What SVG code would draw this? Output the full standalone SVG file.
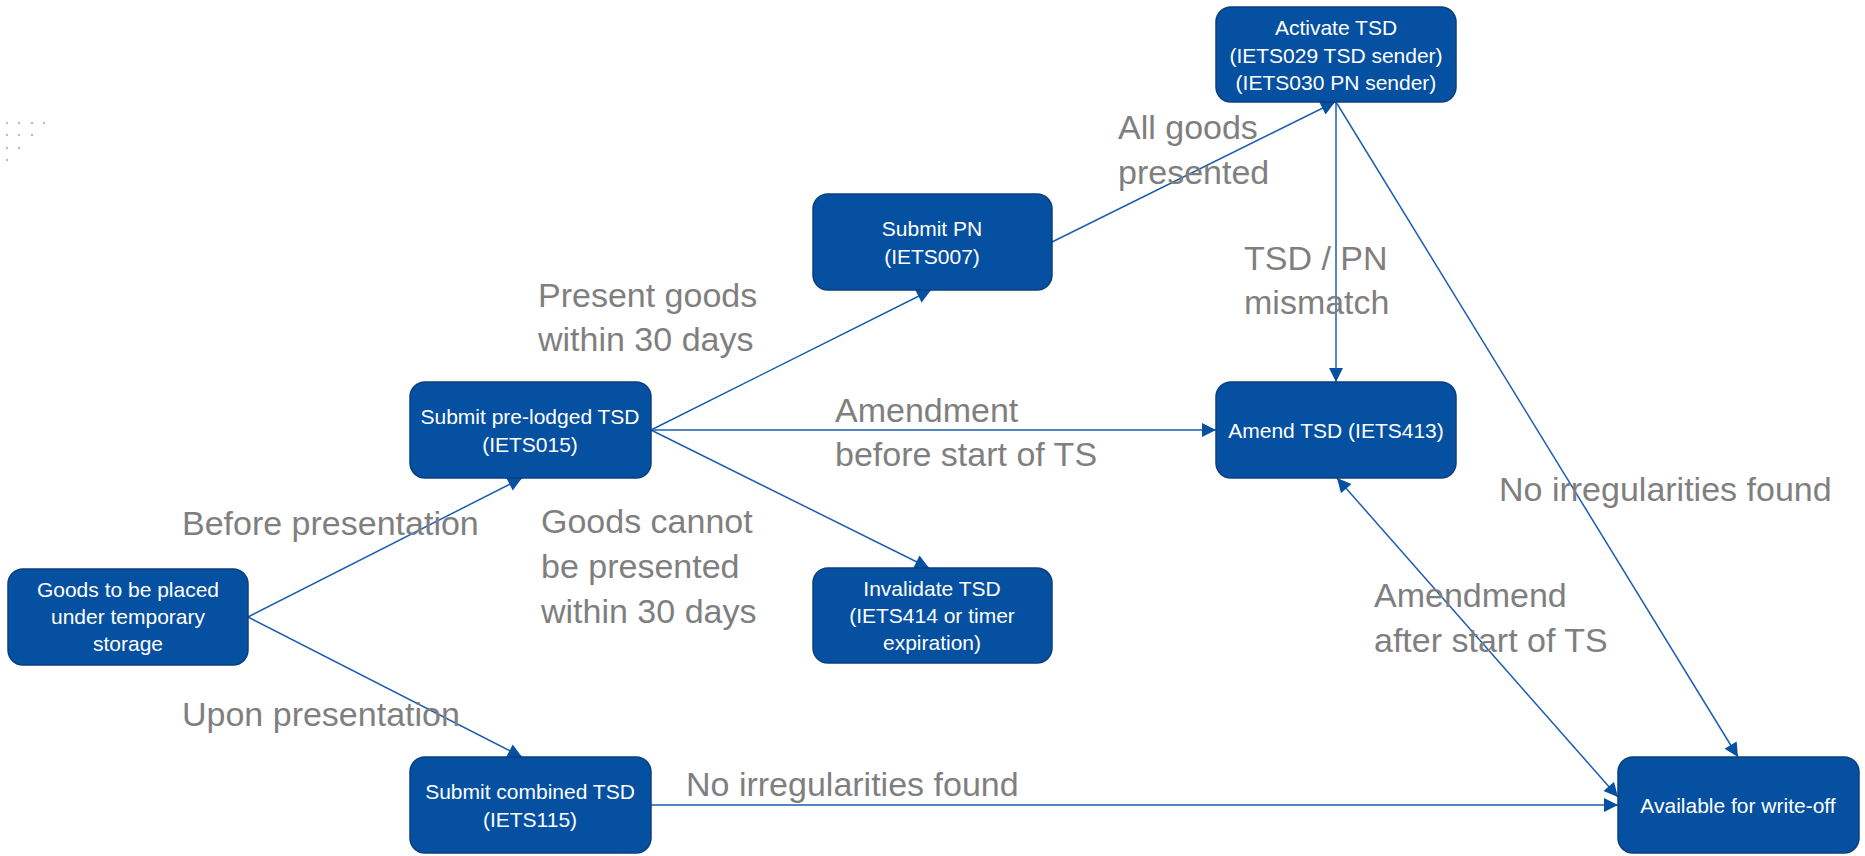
<svg xmlns="http://www.w3.org/2000/svg" width="1865" height="856" viewBox="0 0 1865 856">
<style>
.node rect{fill:#0550A1;stroke:#0B3F7F;stroke-width:1.5}
.node text{fill:#FFFFFF;font-family:"Liberation Sans",Arial,sans-serif;font-size:21px;text-anchor:middle}
.lbl{fill:#7F7F7F;font-family:"Liberation Sans",Arial,sans-serif;font-size:34px}
.edge{stroke:#1B5DB0;stroke-width:1.5;fill:none}
.dot{fill:#BDBDBD}
</style>
<defs>
<marker id="ah" viewBox="0 0 10 10" refX="10" refY="5" markerUnits="userSpaceOnUse" markerWidth="15" markerHeight="14" orient="auto-start-reverse">
<path d="M0,0 L10,5 L0,10 z" fill="#0550A1"/>
</marker>
</defs>
<rect width="1865" height="856" fill="#FFFFFF"/>
<g id="decor">
<circle class="dot" cx="7" cy="123" r="1.2"/><circle class="dot" cx="19" cy="123" r="1.2"/><circle class="dot" cx="32" cy="123" r="1.2"/><circle class="dot" cx="44" cy="123" r="1.2"/>
<circle class="dot" cx="7" cy="135" r="1.2"/><circle class="dot" cx="19" cy="135" r="1.2"/><circle class="dot" cx="32" cy="135" r="1.2"/>
<circle class="dot" cx="7" cy="148" r="1.2"/><circle class="dot" cx="19" cy="148" r="1.2"/>
<circle class="dot" cx="7" cy="160" r="1.2"/>
</g>
<g id="connectors">
<line class="edge" x1="248" y1="617" x2="522" y2="478" marker-end="url(#ah)"/>
<line class="edge" x1="248" y1="617" x2="522" y2="757" marker-end="url(#ah)"/>
<line class="edge" x1="651" y1="430" x2="931" y2="290" marker-end="url(#ah)"/>
<line class="edge" x1="651" y1="430" x2="1216" y2="430" marker-end="url(#ah)"/>
<line class="edge" x1="651" y1="430" x2="929" y2="568" marker-end="url(#ah)"/>
<line class="edge" x1="1052" y1="242" x2="1335" y2="102" marker-end="url(#ah)"/>
<line class="edge" x1="1336" y1="102" x2="1336" y2="382" marker-end="url(#ah)"/>
<line class="edge" x1="1336" y1="102" x2="1738" y2="757" marker-end="url(#ah)"/>
<line class="edge" x1="651" y1="805" x2="1618" y2="805" marker-end="url(#ah)"/>
<line class="edge" x1="1337" y1="478" x2="1618" y2="797" marker-start="url(#ah)" marker-end="url(#ah)"/>
</g>
<g id="labels">
<text class="lbl" x="1118" y="139">All goods</text>
<text class="lbl" x="1118" y="184">presented</text>
<text class="lbl" x="538" y="307">Present goods</text>
<text class="lbl" x="538" y="351">within 30 days</text>
<text class="lbl" x="1244" y="270">TSD / PN</text>
<text class="lbl" x="1244" y="314">mismatch</text>
<text class="lbl" x="835" y="422">Amendment</text>
<text class="lbl" x="835" y="466">before start of TS</text>
<text class="lbl" x="541" y="533">Goods cannot</text>
<text class="lbl" x="541" y="578">be presented</text>
<text class="lbl" x="541" y="623">within 30 days</text>
<text class="lbl" x="182" y="535">Before presentation</text>
<text class="lbl" x="182" y="726">Upon presentation</text>
<text class="lbl" x="686" y="796">No irregularities found</text>
<text class="lbl" x="1499" y="501">No irregularities found</text>
<text class="lbl" x="1374" y="607">Amendmend</text>
<text class="lbl" x="1374" y="652">after start of TS</text>
</g>
<g id="n-goods" class="node">
<rect x="8" y="569" width="240" height="96" rx="15"/>
<text x="128" y="597">Goods to be placed</text>
<text x="128" y="624">under temporary</text>
<text x="128" y="651">storage</text>
</g>
<g id="n-prelodged" class="node">
<rect x="410" y="382" width="241" height="96" rx="15"/>
<text x="530" y="424">Submit pre-lodged TSD</text>
<text x="530" y="452">(IETS015)</text>
</g>
<g id="n-pn" class="node">
<rect x="813" y="194" width="239" height="96" rx="15"/>
<text x="932" y="236">Submit PN</text>
<text x="932" y="264">(IETS007)</text>
</g>
<g id="n-activate" class="node">
<rect x="1216" y="7" width="240" height="95" rx="15"/>
<text x="1336" y="35">Activate TSD</text>
<text x="1336" y="63">(IETS029 TSD sender)</text>
<text x="1336" y="90">(IETS030 PN sender)</text>
</g>
<g id="n-amend" class="node">
<rect x="1216" y="382" width="240" height="96" rx="15"/>
<text x="1336" y="438">Amend TSD (IETS413)</text>
</g>
<g id="n-invalidate" class="node">
<rect x="813" y="568" width="239" height="95" rx="15"/>
<text x="932" y="596">Invalidate TSD</text>
<text x="932" y="623">(IETS414 or timer</text>
<text x="932" y="650">expiration)</text>
</g>
<g id="n-combined" class="node">
<rect x="410" y="757" width="241" height="96" rx="15"/>
<text x="530" y="799">Submit combined TSD</text>
<text x="530" y="827">(IETS115)</text>
</g>
<g id="n-available" class="node">
<rect x="1618" y="757" width="241" height="96" rx="15"/>
<text x="1738" y="813">Available for write-off</text>
</g>
</svg>
